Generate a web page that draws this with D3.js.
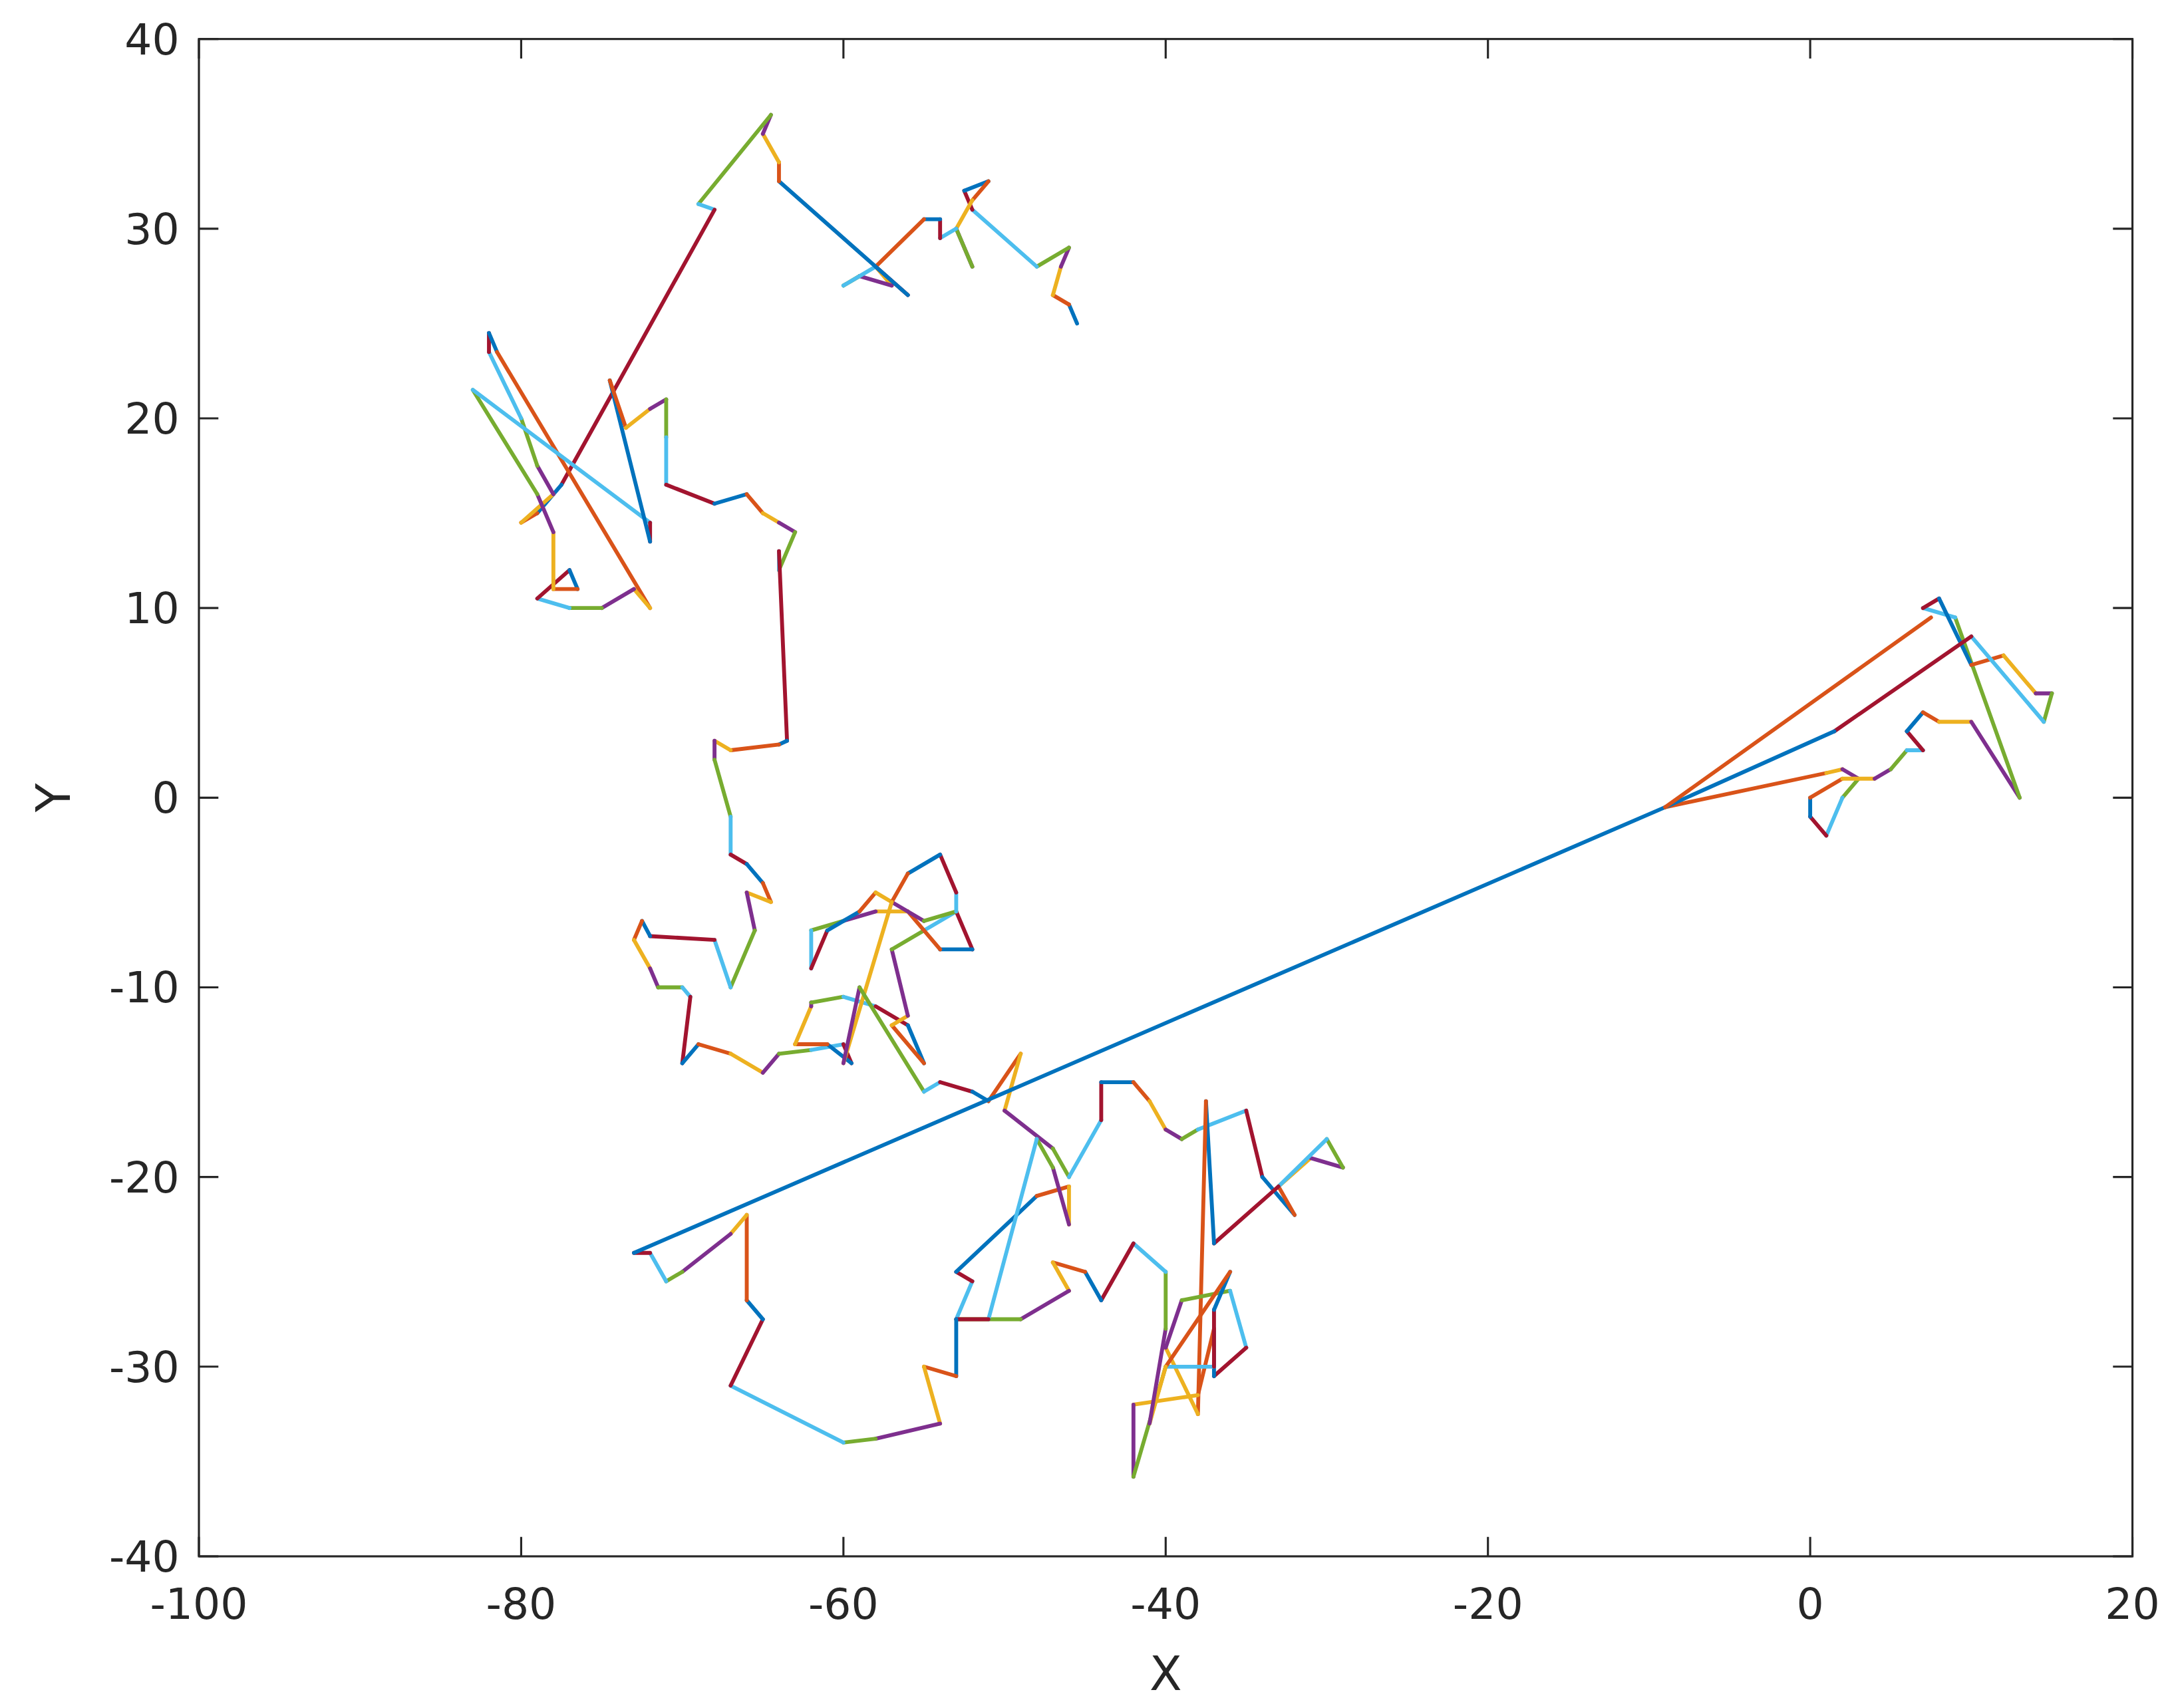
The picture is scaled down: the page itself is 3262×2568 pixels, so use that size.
<!DOCTYPE html>
<html><head><meta charset="utf-8">
<script src="https://cdn.jsdelivr.net/npm/d3@7"></script>
<style>body{margin:0;background:#fff}</style></head>
<body><svg id="c"></svg>
<script>
const xTicks = [-100, -80, -60, -40, -20, 0, 20];
const yTicks = [-40, -30, -20, -10, 0, 10, 20, 30, 40];
const walkX = [-45.5,-46,-47,-46.5,-46,-48,-52,-52.5,-51,-52,-53,-52,-53,-54,-54,-55,-58,-57,-59,-60,-58,-56,-64,-64,-65,-64.5,-69,-68,-77.5,-79,-80,-78,-79,-80,-82,-82,-81.5,-72,-73,-75,-77,-79,-77,-76.5,-78,-78,-79,-83,-72,-72,-74.5,-73.5,-72,-71,-71,-71,-68,-66,-65,-64,-63,-64,-64,-63.5,-64,-67,-68,-68,-67,-67,-66,-65,-64.5,-66,-65.5,-67,-68,-72,-72.5,-73,-72,-71.5,-70,-69.5,-70,-69,-67,-65,-64,-62,-60,-59.5,-61,-63,-62,-62,-60,-58,-56,-55,-57,-56,-57,-55,-53,-52,-54,-56,-58,-60,-62,-62,-61,-59,-58,-57,-55,-53,-53,-54,-56,-57,-60,-59,-55,-54,-52,-51,-49,-50,-47,-46,-44,-44,-42,-41,-40,-39,-38,-35,-34,-32,-33,-31,-29,-30,-33,-37,-37.5,-38,-40,-39,-36,-35,-37,-37,-38,-42,-42,-40,-37,-37,-36,-40,-41,-40,-40,-42,-44,-45,-47,-46,-49,-53,-52,-53,-48,-46,-46,-47,-48,-51,-53,-53,-55,-54,-58,-60,-67,-65,-66,-66,-67,-70,-71,-72,-73,-9,1,2,3,2,1,0,0,2,4,5,6,7,6,7,8,10,13,9,7,8,10,12,14,15,14.5,10,1.5,-9,7.5];
const walkY = [25,26,26.5,28,29,28,31,32,32.5,31.5,30,28,30,29.5,30.5,30.5,28,27,27.5,27,28,26.5,32.5,33.5,35,36,31.3,31,16.5,15,14.5,16,17.5,20,23.5,24.5,23.5,10,11,10,10,10.5,12,11,11,14,16,21.5,14.5,13.5,22,19.5,20.5,21,19,16.5,15.5,16,15,14.5,14,12,13,3,2.8,2.5,3,2,-1,-3,-3.5,-4.5,-5.5,-5,-7,-10,-7.5,-7.3,-6.5,-7.5,-9,-10,-10,-10.5,-14,-13,-13.5,-14.5,-13.5,-13.3,-13,-14,-13,-13,-11,-10.8,-10.5,-11,-12,-14,-12,-11.5,-8,-7,-6,-8,-8,-6,-6,-6.5,-7,-9,-7,-6,-5,-5.5,-6.5,-6,-5,-3,-4,-5.5,-14,-10,-15.5,-15,-15.5,-16,-13.5,-16.5,-18.5,-20,-17,-15,-15,-16,-17.5,-18,-17.5,-16.5,-20,-22,-20.5,-19,-19.5,-18,-20.5,-23.5,-16,-32.5,-29,-26.5,-26,-29,-30.5,-28,-31.5,-32,-35.8,-30,-30,-27,-25,-30,-33,-28,-25,-23.5,-26.5,-25,-24.5,-26,-27.5,-27.5,-25.5,-25,-21,-20.5,-22.5,-19.5,-18,-27.5,-27.5,-30.5,-30,-33,-33.8,-34,-31,-27.5,-26.5,-22,-23,-25,-25.5,-24,-24,-0.5,1.3,1.5,1,0,-2,-1,0,1,1,1.5,2.5,2.5,3.5,4.5,4,4,0,9.5,10,10.5,7,7.5,5.5,5.5,4,8.5,3.5,-0.5,9.5];
const palette = ["#0072BD","#D95319","#EDB120","#7E2F8E","#77AC30","#4DBEEE","#A2142F"];

const W = 1560, H = 1228;
const svg = d3.select("#c").attr("width", 3262).attr("height", 2568)
  .attr("viewBox", `0 0 ${W} ${H}`).style("font-family", "DejaVu Sans");
const L = 143, R = 1533, T = 28, B = 1119;
const x = d3.scaleLinear([-100, 20], [L, R]);
const y = d3.scaleLinear([-40, 40], [B, T]);

const pts = walkX.map((v, i) => [v, walkY[i]]);
const segs = d3.pairs(pts);
svg.append("g").selectAll("line").data(segs).join("line")
  .attr("x1", d => x(d[0][0])).attr("y1", d => y(d[0][1]))
  .attr("x2", d => x(d[1][0])).attr("y2", d => y(d[1][1]))
  .attr("stroke", (d, i) => palette[i % palette.length])
  .attr("stroke-width", 2.8).attr("stroke-linecap", "round");

svg.append("rect").attr("x", L).attr("y", T).attr("width", R - L).attr("height", B - T)
  .attr("fill", "none").attr("stroke", "#262626").attr("stroke-width", 1.5);

const tk = 14;
svg.append("g").selectAll("path").data(xTicks).join("path")
  .attr("d", d => `M${x(d)},${B}v${-tk}M${x(d)},${T}v${tk}`)
  .attr("stroke", "#262626").attr("stroke-width", 1.5);
svg.append("g").selectAll("path").data(yTicks).join("path")
  .attr("d", d => `M${L},${y(d)}h${tk}M${R},${y(d)}h${-tk}`)
  .attr("stroke", "#262626").attr("stroke-width", 1.5);

svg.append("g").selectAll("text").data(xTicks).join("text")
  .attr("x", d => x(d)).attr("y", B + 45).attr("text-anchor", "middle")
  .attr("font-size", 31).attr("fill", "#262626").text(d => d);
svg.append("g").selectAll("text").data(yTicks).join("text")
  .attr("x", L - 14).attr("y", d => y(d) + 11).attr("text-anchor", "end")
  .attr("font-size", 31).attr("fill", "#262626").text(d => d);

svg.append("text").attr("x", (L + R) / 2).attr("y", 1215).attr("text-anchor", "middle")
  .attr("font-size", 34).attr("fill", "#262626").text("X");
svg.append("text").attr("transform", `translate(50,${(T + B) / 2}) rotate(-90)`)
  .attr("text-anchor", "middle").attr("font-size", 34).attr("fill", "#262626").text("Y");
</script></body></html>
